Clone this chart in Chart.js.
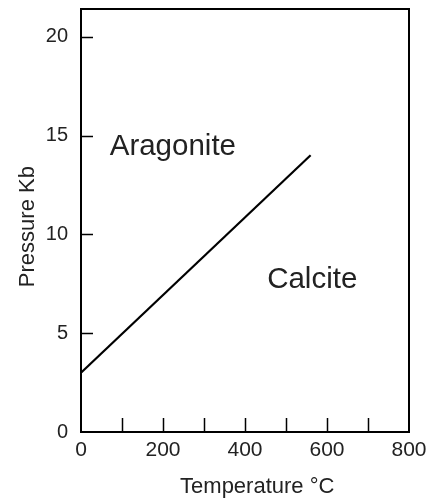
<!DOCTYPE html>
<html>
<head>
<meta charset="utf-8">
<script src="https://cdn.jsdelivr.net/npm/chart.js@4"></script>
<style>
html,body{margin:0;padding:0;background:#fff;}
#wrap{width:428px;height:500px;}
</style>
</head>
<body>
<div id="wrap"><canvas id="c" width="428" height="500"></canvas></div>
<script>
// Data
const temperatures = [0, 560];
const pressures = [3, 14];
const xTickLabels = [0, 200, 400, 600, 800];
const yTickLabels = [0, 5, 10, 15, 20];
const regionLabels = ['Aragonite', 'Calcite'];
const regionX = [70, 454];
const regionY = [14.0, 7.3];

const FONT = '"Liberation Sans", Arial, sans-serif';
const TEXT = '#222';

const boxAndTicks = {
  id: 'boxAndTicks',
  afterDraw(chart) {
    const {ctx, chartArea: a, scales: {x, y}} = chart;
    ctx.save();
    ctx.strokeStyle = '#000';
    ctx.lineWidth = 2;
    ctx.strokeRect(a.left, a.top, a.right - a.left, a.bottom - a.top);
    ctx.lineWidth = 1.5;
    ctx.beginPath();
    x.ticks.forEach(t => {
      if (t.value <= x.min || t.value >= x.max) return;
      const px = Math.round(x.getPixelForValue(t.value)) + 0.5;
      ctx.moveTo(px, a.bottom);
      ctx.lineTo(px, a.bottom - 14);
    });
    y.ticks.forEach(t => {
      if (t.value <= y.min || t.value >= y.max) return;
      const py = Math.round(y.getPixelForValue(t.value)) + 0.5;
      ctx.moveTo(a.left, py);
      ctx.lineTo(a.left + 12, py);
    });
    ctx.stroke();
    // region labels
    ctx.fillStyle = TEXT;
    ctx.font = '29.5px ' + FONT;
    ctx.textAlign = 'left';
    ctx.textBaseline = 'alphabetic';
    regionLabels.forEach((lbl, i) => {
      ctx.fillText(lbl, x.getPixelForValue(regionX[i]), y.getPixelForValue(regionY[i]));
    });
    ctx.restore();
  }
};

new Chart(document.getElementById('c'), {
  type: 'scatter',
  data: {
    datasets: [{
      data: temperatures.map((t, i) => ({x: t, y: pressures[i]})),
      showLine: true,
      borderColor: '#000',
      borderWidth: 2.2,
      pointRadius: 0,
      fill: false
    }]
  },
  options: {
    responsive: false,
    animation: false,
    events: [],
    layout: {padding: {left: 0, top: 9, right: 19, bottom: 0}},
    plugins: {legend: {display: false}, tooltip: {enabled: false}},
    scales: {
      x: {
        type: 'linear', min: 0, max: 800,
        grid: {display: false, drawTicks: false},
        border: {display: false},
        afterFit(s) { s.height = 68; s.paddingLeft = 0; s.paddingRight = 0; },
        ticks: {
          stepSize: 100,
          autoSkip: false,
          maxRotation: 0,
          padding: 6,
          color: TEXT,
          font: {family: FONT, size: 21},
          callback: v => xTickLabels.includes(v) ? String(v) : ''
        },
        title: {display: true, text: '    Temperature °C', color: TEXT, font: {family: FONT, size: 22}, padding: {top: 0, bottom: 0}}
      },
      y: {
        type: 'linear', min: 0, max: 21.4,
        grid: {display: false, drawTicks: false},
        border: {display: false},
        afterFit(s) { s.width = 81; s.paddingTop = 0; s.paddingBottom = 0; },
        ticks: {
          stepSize: 5,
          includeBounds: false,
          padding: 13,
          color: TEXT,
          font: {family: FONT, size: 20},
          callback: v => yTickLabels.includes(v) ? String(v) : ''
        },
        title: {display: true, text: 'Pressure Kb  ', color: TEXT, font: {family: FONT, size: 22}, padding: {top: 15, bottom: 0}}
      }
    }
  },
  plugins: [boxAndTicks]
});
</script>
</body>
</html>
